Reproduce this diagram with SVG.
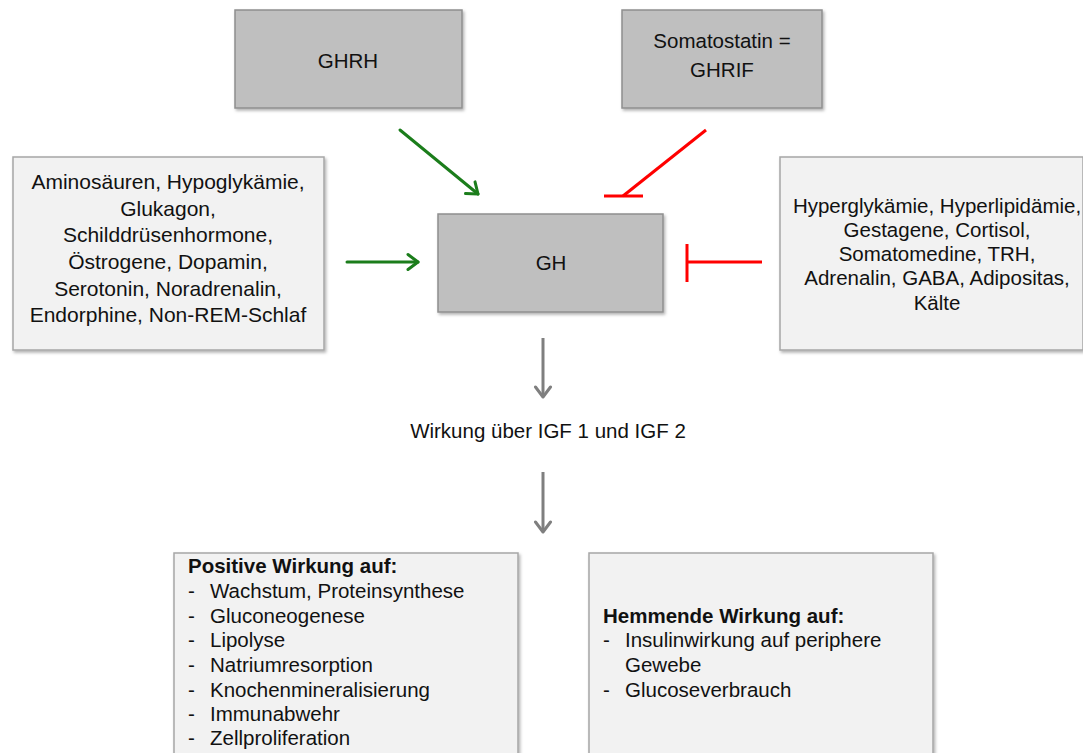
<svg xmlns="http://www.w3.org/2000/svg" width="1083" height="753" viewBox="0 0 1083 753">
  <defs>
    <filter id="shadow" x="-5%" y="-5%" width="115%" height="115%">
      <feDropShadow dx="1.5" dy="2" stdDeviation="1.5" flood-color="#000" flood-opacity="0.3"/>
    </filter>
    <marker id="headGreen" markerUnits="userSpaceOnUse" markerWidth="24" markerHeight="24" viewBox="-12 -12 24 24" refX="0" refY="0" orient="auto">
      <path d="M-10,-7.5 L0,0 L-10,7.5" fill="none" stroke="#1b7d1b" stroke-width="3" stroke-linecap="round" stroke-linejoin="round"/>
    </marker>
    <marker id="headGray" markerUnits="userSpaceOnUse" markerWidth="24" markerHeight="24" viewBox="-12 -12 24 24" refX="0" refY="0" orient="auto">
      <path d="M-10,-7.5 L0,0 L-10,7.5" fill="none" stroke="#7f7f7f" stroke-width="3" stroke-linecap="round" stroke-linejoin="round"/>
    </marker>
  </defs>
  <style>
    .dark { fill: #bfbfbf; stroke: #8f8f8f; stroke-width: 1.5; filter: url(#shadow); }
    .light { fill: #f2f2f2; stroke: #a6a6a6; stroke-width: 1.5; filter: url(#shadow); }
    text { font-family: "Liberation Sans", Arial, sans-serif; font-size: 20.5px; fill: #111; }
    .big { font-size: 21px; }
    .c { text-anchor: middle; }
    .b { font-weight: bold; }
    .act { stroke: #1b7d1b; stroke-width: 3; fill: none; stroke-linecap: round; marker-end: url(#headGreen); }
    .inh { stroke: #ff0000; stroke-width: 3; fill: none; }
    .flow { stroke: #7f7f7f; stroke-width: 3; fill: none; marker-end: url(#headGray); }
  </style>
  <rect width="1083" height="753" fill="#ffffff"/>

  <g id="ghrh">
    <rect class="dark" x="235" y="10" width="227" height="98"/>
    <text class="c" x="348" y="68">GHRH</text>
  </g>

  <g id="somatostatin">
    <rect class="dark" x="622" y="10" width="200" height="98"/>
    <text class="c" x="722" y="48">Somatostatin =</text>
    <text class="c" x="722" y="77">GHRIF</text>
  </g>

  <g id="stimulators">
    <rect class="light" x="13" y="157" width="311" height="193"/>
    <g class="big">
      <text class="c big" x="168" y="189">Aminosäuren, Hypoglykämie,</text>
      <text class="c big" x="168" y="216">Glukagon,</text>
      <text class="c big" x="168" y="242">Schilddrüsenhormone,</text>
      <text class="c big" x="168" y="269">Östrogene, Dopamin,</text>
      <text class="c big" x="168" y="296">Serotonin, Noradrenalin,</text>
      <text class="c big" x="168" y="322">Endorphine, Non-REM-Schlaf</text>
    </g>
  </g>

  <g id="gh">
    <rect class="dark" x="438" y="214" width="225" height="98"/>
    <text class="c" x="551" y="270">GH</text>
  </g>

  <g id="inhibitors">
    <rect class="light" x="780" y="157" width="303" height="193"/>
    <text class="c" x="937" y="213">Hyperglykämie, Hyperlipidämie,</text>
    <text class="c" x="937" y="237">Gestagene, Cortisol,</text>
    <text class="c" x="937" y="261">Somatomedine, TRH,</text>
    <text class="c" x="937" y="285">Adrenalin, GABA, Adipositas,</text>
    <text class="c" x="937" y="310">Kälte</text>
  </g>

  <g id="igf">
    <text class="c" x="548" y="438">Wirkung über IGF 1 und IGF 2</text>
  </g>

  <g id="positive">
    <rect class="light" x="174" y="553" width="344" height="202"/>
    <text class="b" x="188" y="573">Positive Wirkung auf:</text>
    <text x="188" y="598">-</text><text x="210" y="598">Wachstum, Proteinsynthese</text>
    <text x="188" y="623">-</text><text x="210" y="623">Gluconeogenese</text>
    <text x="188" y="647">-</text><text x="210" y="647">Lipolyse</text>
    <text x="188" y="672">-</text><text x="210" y="672">Natriumresorption</text>
    <text x="188" y="697">-</text><text x="210" y="697">Knochenmineralisierung</text>
    <text x="188" y="721">-</text><text x="210" y="721">Immunabwehr</text>
    <text x="188" y="745">-</text><text x="210" y="745">Zellproliferation</text>
  </g>

  <g id="negative">
    <rect class="light" x="589" y="553" width="344" height="202"/>
    <text class="b" x="603" y="623">Hemmende Wirkung auf:</text>
    <text x="603" y="647">-</text><text x="625" y="647">Insulinwirkung auf periphere</text>
    <text x="625" y="672">Gewebe</text>
    <text x="603" y="697">-</text><text x="625" y="697">Glucoseverbrauch</text>
  </g>

  <g id="connectors">
    <!-- GHRH stimulates GH -->
    <line class="act" x1="400" y1="130" x2="478" y2="194"/>
    <!-- Somatostatin inhibits GH -->
    <line class="inh" x1="706" y1="130" x2="623" y2="196"/>
    <line class="inh" x1="604" y1="196" x2="643" y2="196"/>
    <!-- stimulating factors -->
    <line class="act" x1="347" y1="262" x2="418" y2="262"/>
    <!-- inhibiting factors -->
    <line class="inh" x1="762" y1="262" x2="687" y2="262"/>
    <line class="inh" x1="687" y1="244" x2="687" y2="282"/>
    <!-- downstream effects -->
    <line class="flow" x1="543" y1="338" x2="543" y2="397"/>
    <line class="flow" x1="543" y1="472" x2="543" y2="532"/>
  </g>
</svg>
